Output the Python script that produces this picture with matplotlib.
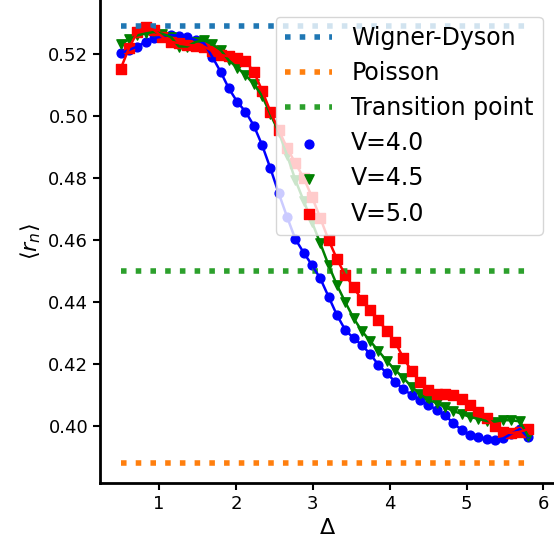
import matplotlib
matplotlib.use("Agg")
import matplotlib.pyplot as plt

delta = [0.5, 0.608, 0.716, 0.825, 0.933, 1.041, 1.149, 1.257, 1.365, 1.474,
         1.582, 1.690, 1.798, 1.906, 2.014, 2.122, 2.231, 2.339, 2.447, 2.555,
         2.663, 2.771, 2.880, 2.988, 3.096, 3.204, 3.312, 3.420, 3.529, 3.637,
         3.745, 3.853, 3.961, 4.069, 4.178, 4.286, 4.394, 4.502, 4.610, 4.718,
         4.827, 4.935, 5.043, 5.151, 5.259, 5.367, 5.476, 5.584, 5.692, 5.8]

r_v40 = [0.5202, 0.5213, 0.5224, 0.5240, 0.5251, 0.5256, 0.5261, 0.5259, 0.5254, 0.5245,
         0.5235, 0.5191, 0.5143, 0.5089, 0.5046, 0.5014, 0.4969, 0.4906, 0.4831, 0.4751,
         0.4675, 0.4603, 0.4559, 0.4519, 0.4476, 0.4417, 0.4358, 0.4310, 0.4283, 0.4261,
         0.4232, 0.4197, 0.4170, 0.4143, 0.4118, 0.4100, 0.4084, 0.4068, 0.4052, 0.4035,
         0.4009, 0.3987, 0.3971, 0.3964, 0.3957, 0.3955, 0.3960, 0.3975, 0.3990, 0.3963]

r_v45 = [0.5232, 0.5247, 0.5260, 0.5266, 0.5271, 0.5265, 0.5255, 0.5224, 0.5224, 0.5239,
         0.5244, 0.5231, 0.5213, 0.5179, 0.5156, 0.5132, 0.5103, 0.5065, 0.5006, 0.4948,
         0.4874, 0.4794, 0.4726, 0.4658, 0.4589, 0.4519, 0.4455, 0.4400, 0.4348, 0.4306,
         0.4274, 0.4242, 0.4210, 0.4181, 0.4155, 0.4126, 0.4103, 0.4084, 0.4074, 0.4061,
         0.4048, 0.4039, 0.4029, 0.4023, 0.4016, 0.4014, 0.4019, 0.4018, 0.4015, 0.3968]

r_v50 = [0.5153, 0.5219, 0.5271, 0.5287, 0.5277, 0.5255, 0.5239, 0.5235, 0.5229, 0.5227,
         0.5224, 0.5210, 0.5197, 0.5192, 0.5187, 0.5177, 0.5143, 0.5082, 0.5014, 0.4955,
         0.4897, 0.4848, 0.4800, 0.4739, 0.4671, 0.4600, 0.4539, 0.4487, 0.4448, 0.4406,
         0.4374, 0.4342, 0.4306, 0.4271, 0.4219, 0.4177, 0.4142, 0.4116, 0.4103, 0.4103,
         0.4100, 0.4087, 0.4068, 0.4045, 0.4026, 0.4000, 0.3981, 0.3977, 0.3981, 0.3990]

r_wd = 0.529
r_poisson = 0.388
r_trans = 0.45

fig = plt.figure(figsize=(5.54, 5.5), dpi=100)
ax = fig.add_axes([100 / 554, 67 / 550, 455 / 554, 483 / 550])

ends = [delta[0], delta[-1]]
ax.plot(ends, [r_wd, r_wd], ":", lw=4, label="Wigner-Dyson")
ax.plot(ends, [r_poisson, r_poisson], ":", lw=4, label="Poisson")
ax.plot(ends, [r_trans, r_trans], ":", lw=4, label="Transition point")

ax.scatter(delta, r_v40, c="b", marker="o", s=40, label="V=4.0")
ax.plot(delta, r_v40, "b-", lw=1.8)
ax.scatter(delta, r_v45, c="g", marker="v", s=45, label="V=4.5")
ax.plot(delta, r_v45, "g-", lw=1.8)
ax.scatter(delta, r_v50, c="r", marker="s", s=45, label="V=5.0")
ax.plot(delta, r_v50, "r-", lw=1.8)

ax.set_xlim(0.23, 6.15)
ax.set_ylim(0.3816, 0.5374)
ax.set_xticks([1, 2, 3, 4, 5, 6])
ax.set_yticks([0.40, 0.42, 0.44, 0.46, 0.48, 0.50, 0.52])
ax.tick_params(labelsize=13, width=1.5, length=5)
ax.spines["top"].set_visible(False)
ax.spines["right"].set_visible(False)
ax.spines["left"].set_linewidth(2)
ax.spines["bottom"].set_linewidth(2)

ax.set_xlabel(r"$\Delta$", fontsize=16)
ax.set_ylabel(r"$\langle r_n \rangle$", fontsize=16)
ax.legend(fontsize=17, loc="upper right", bbox_to_anchor=(1.0, 0.99),
          labelspacing=0.47)

fig.savefig("out.png", dpi=100)
